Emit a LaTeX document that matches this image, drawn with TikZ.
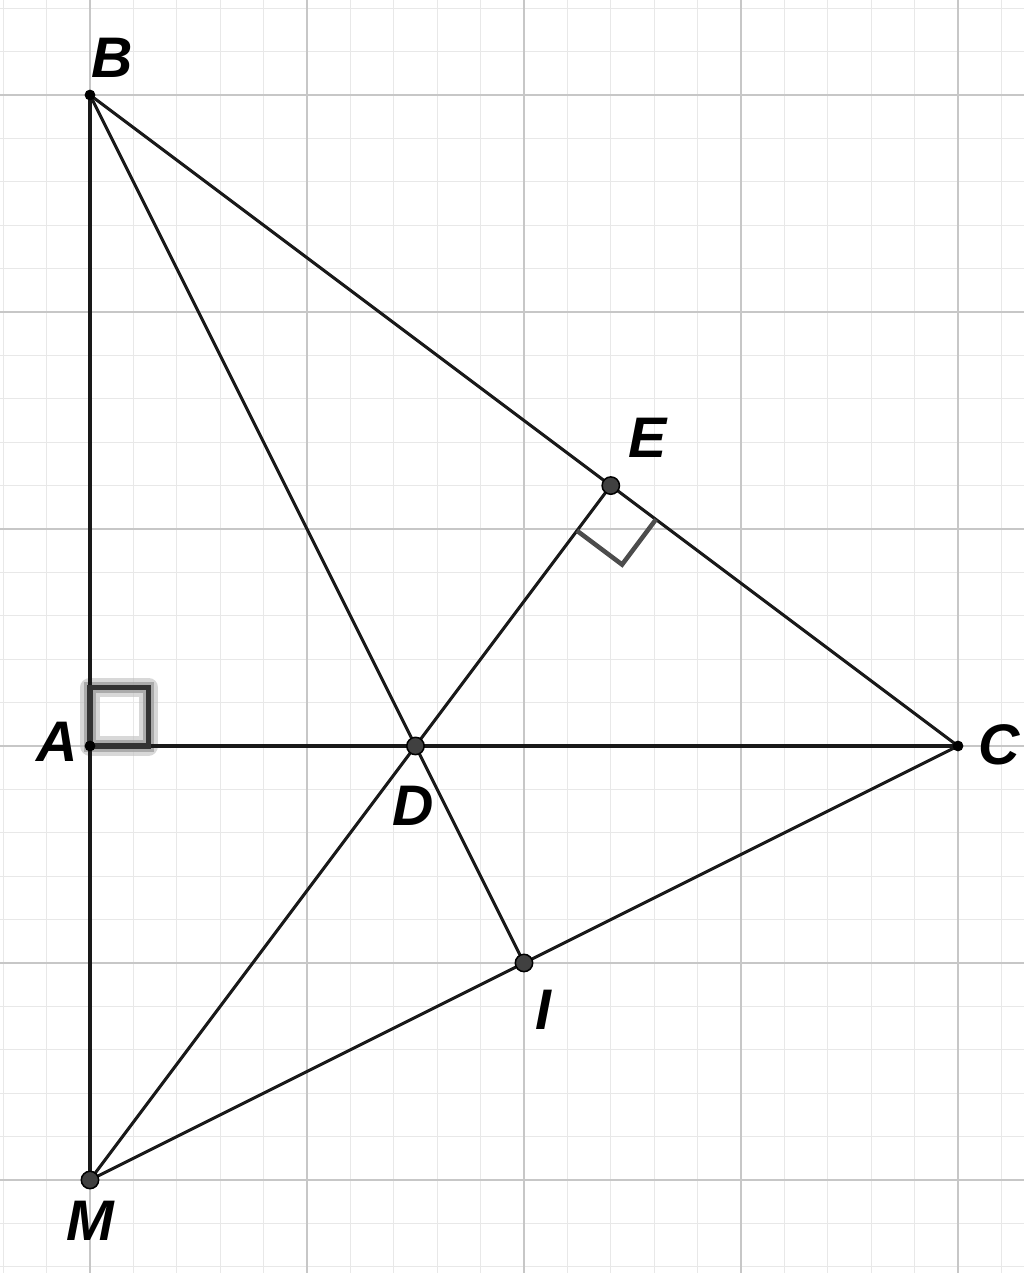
\documentclass[tikz,border=0pt]{standalone}
\usepackage{fontspec}
\setmainfont{Liberation Sans}
\usetikzlibrary{calc}
\begin{document}
\begin{tikzpicture}[x=2cm,y=2cm,
  seg/.style={line width=0.8pt,black!90},
  minorgrid/.style={line width=0.3pt,black!9},
  majorgrid/.style={line width=0.6pt,black!22},
  smalldot/.style={circle,fill=black,inner sep=0pt,minimum size=1.0mm},
  bigdot/.style={circle,fill=black!75,draw=black,line width=0.4pt,inner sep=0pt,minimum size=1.6mm},
  lbl/.style={font=\fontsize{15}{15}\selectfont\bfseries\itshape,inner sep=0pt}]
\useasboundingbox (-0.4147,-2.4286) rectangle (4.3041,3.4378);
\fill[white] (-0.4147,-2.4286) rectangle (4.3041,3.4378);
\draw[minorgrid,step=0.2] (-0.4147,-2.4286) grid (4.3041,3.4378);
\draw[majorgrid,step=1] (-0.4147,-2.4286) grid (4.3041,3.4378);
% points
\coordinate (A) at (0,0);
\coordinate (B) at (0,3);
\coordinate (C) at (4,0);
\coordinate (D) at (1.5,0);
\coordinate (E) at (2.4,1.2);
\coordinate (M) at (0,-2);
\coordinate (I) at (2,-1);
% right angle at A (glow)
\draw[line width=5pt,black!25,opacity=0.6,line join=round] (0,0) rectangle (0.27,0.27);
\draw[line width=3pt,black!40,opacity=0.7] (0,0) rectangle (0.27,0.27);
% segments
\draw[seg] (B) -- (M);
\draw[seg] (A) -- (C);
\draw[seg] (B) -- (C);
\draw[seg] (B) -- (I);
\draw[seg] (E) -- (M);
\draw[seg] (M) -- (C);
% right angle at A
\draw[line width=1.4pt,black!80] (0,0) rectangle (0.27,0.27);
% right angle at E
\coordinate (e1) at (2.244,0.992);
\coordinate (e2) at (2.452,0.836);
\coordinate (e3) at (2.608,1.044);
\draw[line width=1.2pt,black!70] (e1) -- (e2) -- (e3);
% dots
\node[smalldot] (dB) at (B) {};
\node[smalldot] (dA) at (A) {};
\node[smalldot] (dC) at (C) {};
\node[bigdot] (dD) at (D) {};
\node[bigdot] (dE) at (E) {};
\node[bigdot] (dI) at (I) {};
\node[bigdot] (dM) at (M) {};
% labels
\node[lbl] (lB) at (0.10,3.17) {B};
\node[lbl] (lA) at (-0.152,0.018) {A};
\node[lbl] (lC) at (4.19,0.005) {C};
\node[lbl] (lE) at (2.57,1.42) {E};
\node[lbl] (lD) at (1.49,-0.276) {D};
\node[lbl] (lI) at (2.09,-1.217) {I};
\node[lbl] (lM) at (0,-2.19) {M};
\end{tikzpicture}
\end{document}
